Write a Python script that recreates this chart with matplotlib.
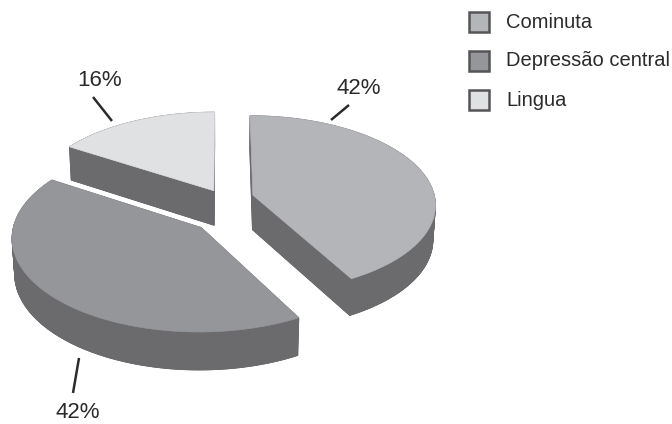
import numpy as np
import matplotlib.pyplot as plt
from matplotlib.patches import Polygon, Rectangle

plt.rcParams['font.family'] = ['Liberation Sans', 'DejaVu Sans']

# Data
labels = ['Cominuta', 'Depressão central', 'Lingua']
values = [42, 42, 16]
top_colors = ['#b4b5b8', '#95969a', '#e0e1e3']
wall_color = '#6b6b6e'

# Per-slice explode offsets (world units: x to the right, y into the page)
offsets = [(0.17, 0.09), (-0.11, -0.27), (-0.045, 0.14)]

# Simple perspective camera
phi = np.radians(29)
D = 8.8
S = 183
cx, cy = 222, 203
H = 0.22


def project(x, y, z):
    v = z * np.cos(phi) + y * np.sin(phi)
    w = -y * np.cos(phi) + z * np.sin(phi)
    s = D / (D - w)
    return cx + S * x * s, cy - S * v * s


fig = plt.figure(figsize=(6.72, 4.24), dpi=100)
ax = fig.add_axes([0, 0, 1, 1])
ax.set_xlim(0, 672)
ax.set_ylim(424, 0)
ax.axis('off')

# Slice angles: start at 12 o'clock, go clockwise
fracs = np.array(values) / sum(values)
starts = 90 - 360 * np.concatenate([[0], np.cumsum(fracs)[:-1]])
ends = starts - 360 * fracs

slices = []
for i in range(len(values)):
    a = np.radians(np.linspace(starts[i], ends[i], 120))
    ox, oy = offsets[i]
    xs = ox + np.cos(a)
    ys = oy + np.sin(a)
    slices.append((ox, oy, xs, ys))


def draw_slice(i):
    ox, oy, xs, ys = slices[i]
    top = [project(ox, oy, 0)] + [project(x, y, 0) for x, y in zip(xs, ys)]
    bot = [project(ox, oy, -H)] + [project(x, y, -H) for x, y in zip(xs, ys)]
    # bottom face and side walls
    ax.add_patch(Polygon(bot, closed=True, fc=wall_color, ec=wall_color, lw=0.6))
    n = len(top)
    for j in range(n):
        k = (j + 1) % n
        quad = [top[j], top[k], bot[k], bot[j]]
        ax.add_patch(Polygon(quad, closed=True, fc=wall_color, ec=wall_color, lw=0.6))
    ax.add_patch(Polygon(top, closed=True, fc=top_colors[i], ec=top_colors[i], lw=0.5))


# back to front
for i in [2, 0, 1]:
    draw_slice(i)

# Percentage labels with leader lines
label_pos = [(359, 89), (78, 412), (100, 80)]
leader = [((331, 120), (349, 105)), ((79, 358), (73, 393)), ((93, 97), (112, 121))]
for i, v in enumerate(values):
    ax.text(*label_pos[i], f'{v}%', ha='center', va='center', fontsize=16, color='#2b2b2b')
    (x1, y1), (x2, y2) = leader[i]
    ax.plot([x1, x2], [y1, y2], color='#2b2b2b', lw=1.8, solid_capstyle='butt')

# Legend
for i, lab in enumerate(labels):
    y = 22 + i * 39
    ax.add_patch(Rectangle((469, y - 10), 20, 20, fc=top_colors[i], ec='#555557', lw=1.8))
    ax.text(506, y, lab, ha='left', va='center', fontsize=14.5, color='#2b2b2b')

fig.savefig('out.png', dpi=100)
